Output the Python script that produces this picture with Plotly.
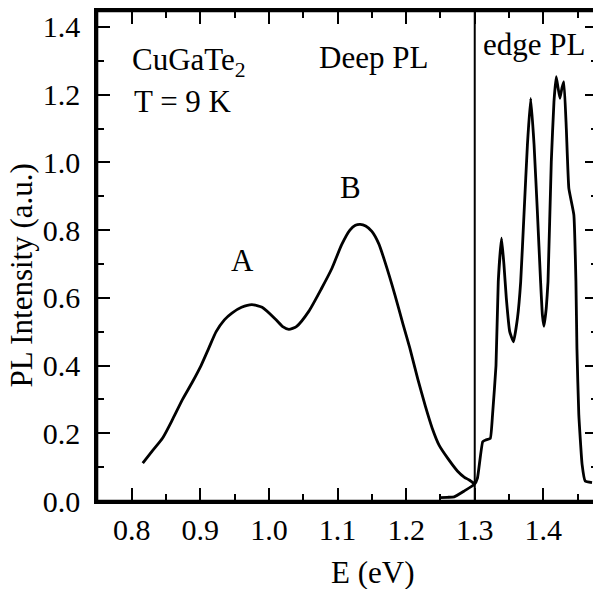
import plotly.graph_objects as go

# Deep PL band (A and B)
deep_E = [0.816, 0.830, 0.845, 0.860, 0.874, 0.888, 0.901, 0.912, 0.923, 0.935,
          0.946, 0.960, 0.975, 0.990, 1.010, 1.020, 1.029, 1.040, 1.058, 1.077,
          1.092, 1.106, 1.118, 1.126, 1.133, 1.141, 1.150, 1.160, 1.169, 1.1836,
          1.1957, 1.2053, 1.217, 1.228, 1.238, 1.248, 1.261, 1.275, 1.285, 1.292, 1.300]
deep_I = [0.112, 0.148, 0.186, 0.243, 0.300, 0.350, 0.400, 0.450, 0.500, 0.535,
          0.555, 0.572, 0.580, 0.572, 0.536, 0.515, 0.507, 0.515, 0.560, 0.629,
          0.688, 0.757, 0.800, 0.814, 0.817, 0.812, 0.796, 0.760, 0.707, 0.609,
          0.520, 0.452, 0.360, 0.280, 0.215, 0.165, 0.125, 0.088, 0.070, 0.062, 0.050]

# Edge PL band
edge_E = [1.249, 1.260, 1.270, 1.285, 1.2995, 1.304, 1.3116, 1.316, 1.3227, 1.326,
          1.331, 1.3343, 1.3391, 1.3425, 1.346, 1.351, 1.3565, 1.3623, 1.367, 1.372,
          1.3768, 1.3816, 1.3865, 1.3913, 1.396, 1.3986, 1.401, 1.4043, 1.4068, 1.4116,
          1.4155, 1.4188, 1.4215, 1.4242, 1.4272, 1.430, 1.4335, 1.4372, 1.4445, 1.4475,
          1.449, 1.4517, 1.4565, 1.461, 1.471]
edge_I = [0.010, 0.011, 0.012, 0.030, 0.049, 0.068, 0.175, 0.180, 0.185, 0.256,
          0.400, 0.648, 0.776, 0.700, 0.600, 0.500, 0.470, 0.540, 0.648, 0.855,
          1.052, 1.189, 1.052, 0.855, 0.648, 0.550, 0.516, 0.570, 0.648, 1.002,
          1.179, 1.253, 1.220, 1.189, 1.220, 1.238, 1.100, 0.923, 0.845, 0.650,
          0.450, 0.256, 0.108, 0.059, 0.054]

x_ticks = [0.8, 0.9, 1.0, 1.1, 1.2, 1.3, 1.4]
x_tick_text = ["0.8", "0.9", "1.0", "1.1", "1.2", "1.3", "1.4"]
y_ticks = [0.0, 0.2, 0.4, 0.6, 0.8, 1.0, 1.2, 1.4]
y_tick_text = ["0.0", "0.2", "0.4", "0.6", "0.8", "1.0", "1.2", "1.4"]
divider_E = 1.3

FONT = "Liberation Serif"

fig = go.Figure()
fig.add_trace(go.Scatter(x=deep_E, y=deep_I, mode="lines",
                         line=dict(color="black", width=2.8, shape="spline", smoothing=0.6),
                         showlegend=False))
fig.add_trace(go.Scatter(x=edge_E, y=edge_I, mode="lines",
                         line=dict(color="black", width=2.8, shape="spline", smoothing=0.35),
                         showlegend=False))

# divider between deep and edge PL
fig.add_shape(type="line", x0=divider_E, x1=divider_E, y0=0, y1=1,
              xref="x", yref="paper", line=dict(color="black", width=2))
# plot frame
fig.add_shape(type="rect", x0=0, x1=1, y0=0, y1=1, xref="paper", yref="paper",
              line=dict(color="black", width=2.6), fillcolor="rgba(0,0,0,0)", layer="above")

axis_common = dict(showgrid=False, zeroline=False, showline=True, linecolor="black",
                   linewidth=2.5, ticks="inside", tickcolor="black", tickwidth=2,
                   ticklen=13, mirror="ticks",
                   tickfont=dict(family=FONT, size=30, color="black"))

fig.update_xaxes(range=[0.7493, 1.4797], tickvals=x_ticks, ticktext=x_tick_text,
                 minor=dict(ticks="inside", ticklen=7, tickwidth=2, tickcolor="black", dtick=0.05,
                            tick0=0.75, showgrid=False),
                 ticklabelstandoff=0, **axis_common)
fig.update_yaxes(range=[0, 1.447], tickvals=y_ticks, ticktext=y_tick_text,
                 minor=dict(ticks="inside", ticklen=7, tickwidth=2, tickcolor="black", dtick=0.1,
                            tick0=0, showgrid=False),
                 ticklabelstandoff=8, **axis_common)

ann_font = dict(family=FONT, size=31, color="black")
annotations = [
    dict(text="E (eV)", x=0.5496, y=-0.146, xref="paper", yref="paper"),
    dict(text="PL Intensity (a.u.)", x=-0.1508, y=0.461, xref="paper", yref="paper", textangle=-90),
    dict(text="CuGaTe<sub>2</sub>", x=0.797, y=1.297, xref="x", yref="y", xanchor="left"),
    dict(text="T = 9 K", x=0.801, y=1.179, xref="x", yref="y", xanchor="left"),
    dict(text="A", x=0.961, y=0.710, xref="x", yref="y"),
    dict(text="B", x=1.119, y=0.925, xref="x", yref="y"),
    dict(text="Deep PL", x=1.152, y=1.311, xref="x", yref="y"),
    dict(text="edge PL", x=1.386, y=1.347, xref="x", yref="y"),
]
for a in annotations:
    a.setdefault("xanchor", "center")
    fig.add_annotation(showarrow=False, yanchor="middle", font=ann_font, **a)

# The page body keeps an 8px margin, so the figure is sized to fill the rest of the window.
fig.update_layout(width=593, height=582, plot_bgcolor="white", paper_bgcolor="white",
                  margin=dict(l=89, r=0, t=1, b=89), showlegend=False)

fig.write_html("out.html")
